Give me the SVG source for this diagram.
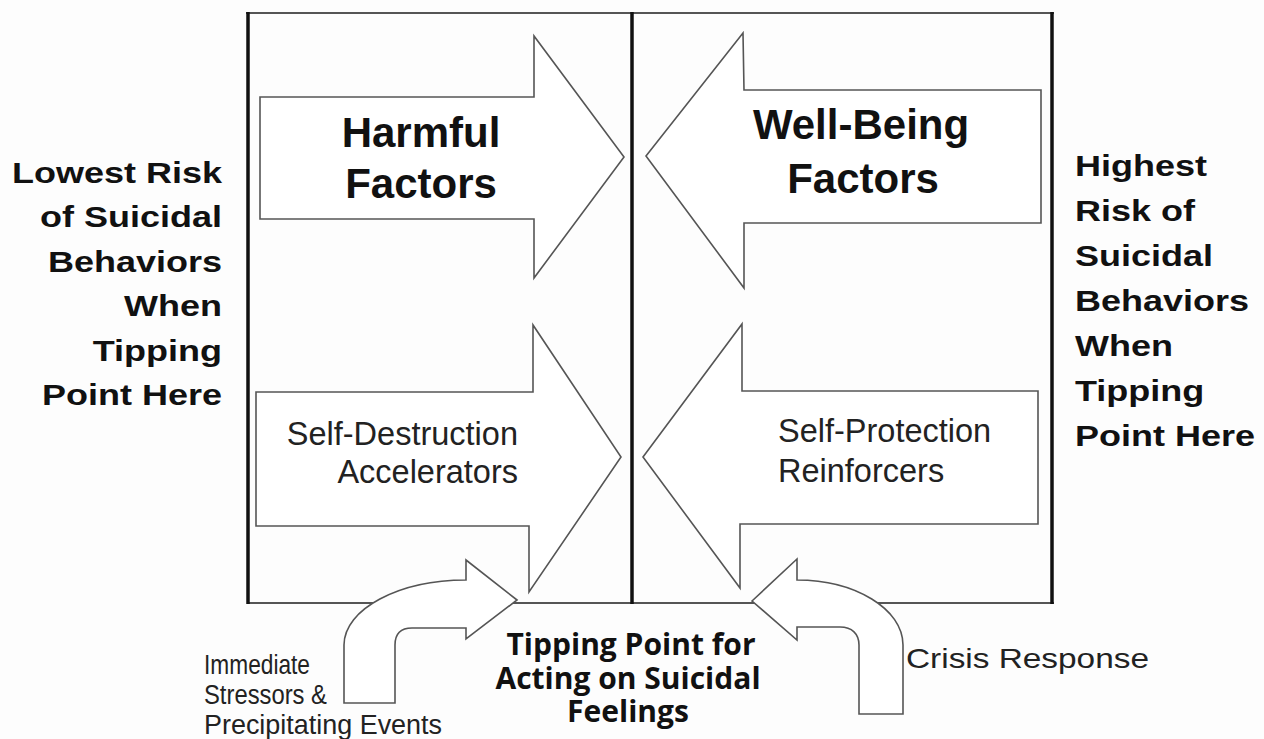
<svg xmlns="http://www.w3.org/2000/svg" width="1264" height="739" viewBox="0 0 1264 739">
<style>
.bg{fill:#fdfdfd}
.frame{stroke:#111;stroke-width:3.5;fill:none}
.rule{stroke:#555;stroke-width:2;fill:none}
.arrow{fill:#fff;stroke:#555;stroke-width:1.6;stroke-linejoin:miter}
.big{font-family:"Liberation Sans",Arial,sans-serif;font-weight:bold;font-size:42px;fill:#111;text-anchor:middle}
.mid{font-family:"Liberation Sans",Arial,sans-serif;font-size:32.5px;fill:#222}
.side{font-family:"Liberation Sans",Arial,sans-serif;font-weight:bold;font-size:30px;fill:#111}
.small{font-family:"Liberation Sans",Arial,sans-serif;font-size:27.5px;fill:#222}
.tp{font-family:"Open Sans","DejaVu Sans",sans-serif;font-weight:bold;font-size:30px;fill:#111;text-anchor:middle}
</style>
<rect class="bg" x="0" y="0" width="1264" height="739"/>
<g id="frame">
<line class="rule" x1="246" y1="13" x2="1054" y2="13"/>
<line class="rule" x1="248" y1="603" x2="1054" y2="603"/>
<line class="frame" x1="248" y1="12" x2="248" y2="604"/>
<line class="frame" x1="632" y1="12" x2="632" y2="604"/>
<line class="frame" x1="1052" y1="12" x2="1052" y2="604"/>
</g>
<g id="harmful">
<path class="arrow" d="M260,97 L534,97 L534,36 L624,157 L534,278 L534,219 L260,219 Z"/>
<text class="big" x="421" y="147">Harmful</text>
<text class="big" x="421" y="198">Factors</text>
</g>
<g id="wellbeing">
<path class="arrow" d="M646,156 L743,33 L744,90 L1041,90 L1041,223 L744,223 L744,288 Z"/>
<text class="big" x="861" y="139">Well-Being</text>
<text class="big" x="863" y="193">Factors</text>
</g>
<g id="self-destruction">
<path class="arrow" d="M256,392 L533,392 L533,325 L621,457 L529,592 L529,526 L256,526 Z"/>
<text class="mid" x="518" y="445" text-anchor="end">Self-Destruction</text>
<text class="mid" x="518" y="483" text-anchor="end">Accelerators</text>
</g>
<g id="self-protection">
<path class="arrow" d="M643,457 L742,324 L742,391 L1038,391 L1038,524 L740,524 L740,588 Z"/>
<text class="mid" x="778" y="442">Self-Protection</text>
<text class="mid" x="778" y="482">Reinforcers</text>
</g>
<g id="connectors">
<path class="arrow" d="M517,600 L466,560 L466,580 C399,580 344,609 344,645 L344,703 L395,703 L395,645 C395,634 401,628 412,628 L466,628 L466,639 Z"/>
<path class="arrow" d="M752,601 L797,559 L797,580 C855,580 903,609 903,645 L903,714 L859,714 L859,645 C859,634 852,627 840,627 L797,627 L797,640 Z"/>
</g>
<g id="lowest-risk" transform="translate(222,0) scale(1.2,1)">
<text class="side" text-anchor="end" x="0" y="183">Lowest Risk</text>
<text class="side" text-anchor="end" x="0" y="227">of Suicidal</text>
<text class="side" text-anchor="end" x="0" y="272">Behaviors</text>
<text class="side" text-anchor="end" x="0" y="316">When</text>
<text class="side" text-anchor="end" x="0" y="361">Tipping</text>
<text class="side" text-anchor="end" x="0" y="405">Point Here</text>
</g>
<g id="highest-risk" transform="translate(1075,0) scale(1.2,1)">
<text class="side" x="0" y="176">Highest</text>
<text class="side" x="0" y="221">Risk of</text>
<text class="side" x="0" y="266">Suicidal</text>
<text class="side" x="0" y="311">Behaviors</text>
<text class="side" x="0" y="356">When</text>
<text class="side" x="0" y="401">Tipping</text>
<text class="side" x="0" y="446">Point Here</text>
</g>
<g id="stressors">
<text class="small" x="204" y="674" textLength="106" lengthAdjust="spacingAndGlyphs">Immediate</text>
<text class="small" x="204" y="704" textLength="123" lengthAdjust="spacingAndGlyphs">Stressors &amp;</text>
<text class="small" x="204" y="734" textLength="238" lengthAdjust="spacingAndGlyphs">Precipitating Events</text>
</g>
<g id="crisis">
<text class="small" x="906" y="668" textLength="243" lengthAdjust="spacingAndGlyphs">Crisis Response</text>
</g>
<g id="tipping-point">
<text class="tp"><tspan x="631" y="655">Tipping Point for</tspan><tspan x="628" y="689">Acting on Suicidal</tspan><tspan x="628" y="722">Feelings</tspan></text>
</g>
</svg>
